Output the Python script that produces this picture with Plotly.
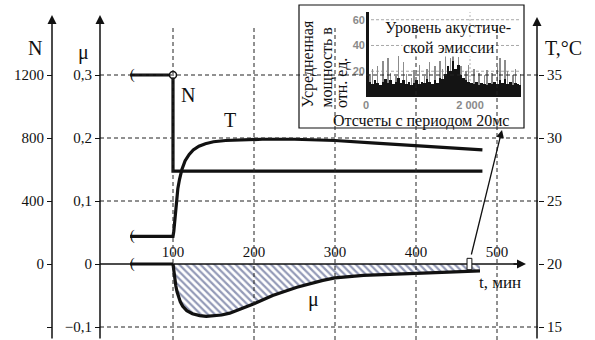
import plotly.graph_objects as go

# ---------------- data ----------------
# load N vs time t (min)
n_t = [47, 100, 100, 482]
n_val = [1200, 1200, 590, 590]

# temperature T (°C) vs t
temp_t = [47, 100, 101, 102, 103, 104, 106, 108, 111, 115, 120, 125, 132, 140,
          150, 165, 185, 210, 250, 300, 350, 400, 450, 482]
temp_val = [22.2, 22.2, 22.6, 23.4, 24.3, 25.0, 26.0, 26.7, 27.5, 28.2, 28.7, 29.05,
            29.35, 29.55, 29.7, 29.8, 29.85, 29.9, 29.9, 29.8, 29.6, 29.4, 29.2, 29.05]

# friction coefficient mu vs t
mu_flat_t = [47, 100]
mu_flat = [0, 0]
mu_t = [100, 101, 102, 103.5, 105, 107, 109, 112, 117, 124, 133, 141, 149, 160, 170,
        185, 200, 223, 253, 285, 300, 335, 368, 400, 440, 479]
mu_val = [0, -0.012, -0.024, -0.035, -0.044, -0.053, -0.060, -0.067, -0.074, -0.079,
          -0.082, -0.083, -0.0825, -0.081, -0.078, -0.071, -0.063, -0.050, -0.037,
          -0.026, -0.022, -0.018, -0.016, -0.015, -0.013, -0.011]

# inset: acoustic emission level, averaged power (rel. units) per block of samples
ae_step = 50
ae_gray = [0, 18, 22, 8, 24, 9, 28, 10, 30, 19, 9, 16, 32, 8, 27, 18, 10, 15, 21, 9,
           25, 10, 16, 22, 27, 9, 24, 10, 28, 22, 33, 11, 30, 35, 12, 31, 24, 10, 20, 25,
           9, 22, 8, 19, 9, 17, 21, 8, 19, 9, 23, 30, 10, 29, 20, 9, 17, 22, 8, 18]
ae_dark = [66, 12, 10, 13, 11, 9, 12, 14, 11, 13, 10, 12, 15, 11, 13, 10, 12, 9, 11, 13,
           10, 12, 11, 14, 12, 10, 13, 11, 15, 14, 18, 24, 20, 28, 22, 25, 17, 15, 13, 12,
           11, 10, 12, 9, 11, 10, 9, 11, 10, 12, 10, 13, 11, 14, 10, 12, 9, 11, 10, 9]
ae_x = [i * ae_step + ae_step / 2 for i in range(len(ae_dark))]

# ticks
t_ticks = [100, 200, 300, 400, 500]
mu_ticks = [-0.1, 0, 0.1, 0.2, 0.3]
mu_tick_text = ["\u22120,1", "0", "0,1", "0,2", "0,3"]
n_ticks = [-400, 0, 400, 800, 1200]
n_tick_text = ["", "0", "400", "800", "1200"]
temp_ticks = [15, 20, 25, 30, 35]
ae_y_ticks = [20, 40, 60]
ae_x_ticks = [0, 2000]
ae_x_text = ["0", "2 000"]

# ---------------- layout geometry ----------------
W, H = 595, 340
ML, MR, MT, MB = 52, 57, 3, 0
PW = W - ML - MR
PH = H - MT - MB


def px_x(px):
    return (px - ML) / PW


def px_y(py):
    return (H - MB - py) / PH


MU_PER_PX = 0.1 / 63
MU_RANGE = [0.3 - (H - 75) * MU_PER_PX, 0.3 + (75 - MT) * MU_PER_PX]
N_RANGE = [4000 * v for v in MU_RANGE]
T_RANGE = [20 + 50 * v for v in MU_RANGE]
T_PER_PX = 100 / 81
X_RANGE = [100 - (173 - ML) * T_PER_PX, 100 + (W - MR - 173) * T_PER_PX]
ZERO_POS = (0 - MU_RANGE[0]) / (MU_RANGE[1] - MU_RANGE[0])
AE_RANGE_X = [0, 2980]
AE_RANGE_Y = [0, 66]


def dx(px):  # pixel -> main time coordinate
    return 100 + (px - 173) * T_PER_PX


def dy(py):  # pixel -> main mu coordinate
    return 0.3 - (py - 75) * MU_PER_PX


SERIF = "Liberation Serif"
BLACK = "#111111"

fig = go.Figure()

# hatched mu area
fig.add_trace(go.Scatter(
    x=mu_t, y=mu_val, mode="lines", fill="tozeroy",
    line=dict(color=BLACK, width=3.2),
    fillpattern=dict(shape="\\", fgcolor="#28356f", size=5, solidity=0.45),
    fillcolor="rgba(0,0,0,0)", hoverinfo="skip"))
fig.add_trace(go.Scatter(x=mu_flat_t, y=mu_flat, mode="lines",
                         line=dict(color=BLACK, width=3.2)))
fig.add_trace(go.Scatter(x=n_t, y=n_val, yaxis="y2", mode="lines",
                         line=dict(color=BLACK, width=3.2)))
fig.add_trace(go.Scatter(x=temp_t, y=temp_val, yaxis="y3", mode="lines",
                         line=dict(color=BLACK, width=3.2)))
# open circles at the switching moment
fig.add_trace(go.Scatter(x=[n_t[1]], y=[n_val[1]], yaxis="y2", mode="markers",
                         marker=dict(symbol="circle", size=7, color="white",
                                     line=dict(color=BLACK, width=1.5))))
fig.add_trace(go.Scatter(x=[mu_t[0]], y=[mu_val[0]], yaxis="y3", mode="markers",
                         marker=dict(symbol="circle", size=7, color="white",
                                     line=dict(color=BLACK, width=1.5))))

# inset bars
fig.add_trace(go.Bar(x=ae_x, y=ae_gray, xaxis="x2", yaxis="y4", width=ae_step * 0.5,
                     marker=dict(color="#8c8c8c", line=dict(width=0))))
fig.add_trace(go.Bar(x=ae_x, y=ae_dark, xaxis="x2", yaxis="y4", width=ae_step,
                     marker=dict(color="#141414", line=dict(width=0))))

tickfont = dict(family=SERIF, size=15, color=BLACK)
dash = "4px,3px"
shapes = []
# horizontal grid
for v in mu_ticks:
    if v == 0:
        continue
    shapes.append(dict(type="line", xref="paper", yref="y", x0=px_x(100), x1=1,
                       y0=v, y1=v, line=dict(color="#222", width=1, dash=dash)))
# vertical grid
for v in t_ticks:
    shapes.append(dict(type="line", xref="x", yref="paper", x0=v, x1=v,
                       y0=0, y1=px_y(25), line=dict(color="#222", width=1, dash=dash)))
# time axis line
shapes.append(dict(type="line", xref="paper", yref="y", x0=px_x(100), x1=px_x(518),
                   y0=0, y1=0, line=dict(color=BLACK, width=1.5)))
# inset frame (in main subplot, above its grid, below all traces)
shapes.append(dict(type="rect", xref="x", yref="y", x0=dx(299), x1=dx(524),
                   y0=dy(128), y1=dy(5), fillcolor="white", layer="between",
                   line=dict(color=BLACK, width=1.2)))
# inset grid lines
for v in ae_y_ticks:
    shapes.append(dict(type="line", xref="x2", yref="y4", x0=AE_RANGE_X[0], x1=AE_RANGE_X[1],
                       y0=v, y1=v, layer="below",
                       line=dict(color="#a8a8a8", width=1, dash="3px,2px")))
shapes.append(dict(type="line", xref="x2", yref="y4", x0=ae_x_ticks[1], x1=ae_x_ticks[1],
                   y0=AE_RANGE_Y[0], y1=AE_RANGE_Y[1], layer="below",
                   line=dict(color="#b5b5b5", width=1, dash="2px,2px")))
# small marker rectangle on the time axis
shapes.append(dict(type="rect", xref="x", yref="y", x0=463, x1=469, y0=-0.009, y1=0.009,
                   fillcolor="white", line=dict(color=BLACK, width=1), layer="above"))

ann = []


def arrow(x, y, ax, ay, **kw):
    d = dict(x=x, y=y, ax=ax, ay=ay, text="", showarrow=True, arrowhead=2,
             arrowsize=1.2, arrowwidth=1.5, arrowcolor=BLACK, xref="paper", yref="paper")
    d.update(kw)
    ann.append(d)


arrow(px_x(52), px_y(15), 0, 325)
arrow(px_x(100), px_y(15), 0, 325)
arrow(px_x(537), px_y(17), 0, 323)
arrow(px_x(526), 0, -14, 0, yref="y")
arrow(px_x(502), px_y(130), -31, 126, arrowwidth=1.3)


def text(x, y, s, size=20, xref="paper", yref="paper", **kw):
    d = dict(x=x, y=y, text=s, showarrow=False, xref=xref, yref=yref,
             xanchor="center", yanchor="middle",
             font=dict(family=SERIF, size=size, color=BLACK))
    d.update(kw)
    ann.append(d)


# break marks
brk = dict(size=14, xshift=2)
text(n_t[0], n_val[0], "(", xref="x", yref="y2", **brk)
text(temp_t[0], temp_val[0], "(", xref="x", yref="y3", **brk)
text(mu_flat_t[0], mu_flat[0], "(", xref="x", yref="y", **brk)

text(px_x(35), px_y(48), "N")
text(px_x(83), px_y(52), "μ")
text(px_x(563), px_y(48), "T,°C")
text(px_x(188), px_y(95), "N")
text(px_x(230), px_y(120), "T")
text(px_x(313), px_y(299), "μ")
text(px_x(500), px_y(282), "t, мин", size=17)

# inset texts
text(px_x(448), px_y(28), "Уровень акустиче-", size=16)
text(px_x(449), px_y(48), "ской эмиссии", size=16, bgcolor="white", borderpad=0)
text(px_x(421), px_y(121), "Отсчеты с периодом 20мс", size=16)
for xp, s in [(308, "Усредненная"), (327, "мощность в"), (342, "отн. ед.")]:
    text(px_x(xp), px_y(110), s, size=16, textangle=-90, yanchor="bottom")

inset_font = dict(family="Liberation Sans", size=11, color="#8a8a8a", weight="bold")

fig.update_layout(
    width=W, height=H, margin=dict(l=ML, r=MR, t=MT, b=MB, autoexpand=False),
    paper_bgcolor="white", plot_bgcolor="rgba(0,0,0,0)",
    showlegend=False, barmode="overlay", bargap=0, hovermode=False,
    shapes=shapes, annotations=ann,
    xaxis=dict(domain=[0, 1], range=X_RANGE, anchor="free", position=ZERO_POS, side="top",
               tickvals=t_ticks, ticks="", showgrid=False, zeroline=False, showline=False,
               tickfont=tickfont, ticklabelstandoff=4),
    yaxis=dict(domain=[0, 1], range=MU_RANGE, anchor="free", position=px_x(100), side="left",
               tickvals=mu_ticks, ticktext=mu_tick_text, ticks="outside", ticklen=5,
               tickcolor=BLACK, showgrid=False, zeroline=False, showline=False,
               tickfont=tickfont),
    yaxis2=dict(range=N_RANGE, overlaying="y", anchor="free", position=0, side="left",
                tickvals=n_ticks, ticktext=n_tick_text, ticks="outside", ticklen=5,
                tickcolor=BLACK, showgrid=False, zeroline=False, showline=False,
                tickfont=tickfont),
    yaxis3=dict(range=T_RANGE, overlaying="y", anchor="free", position=1, side="right",
                tickvals=temp_ticks, ticks="outside", ticklen=5,
                tickcolor=BLACK, showgrid=False, zeroline=False, showline=False,
                tickfont=tickfont),
    xaxis2=dict(domain=[px_x(366), px_x(521)], anchor="y4", range=AE_RANGE_X,
                tickvals=ae_x_ticks, ticktext=ae_x_text, ticks="", showgrid=False,
                zeroline=False, showline=False, tickfont=inset_font),
    yaxis4=dict(domain=[px_y(97), px_y(12)], anchor="x2", range=AE_RANGE_Y,
                tickvals=ae_y_ticks, ticks="", showgrid=False,
                zeroline=False, showline=False, tickfont=inset_font),
)

fig.write_html("out.html", config={"displayModeBar": False, "staticPlot": True},
               post_script="document.body.style.margin='0';"
               "document.body.style.overflow='hidden';")
